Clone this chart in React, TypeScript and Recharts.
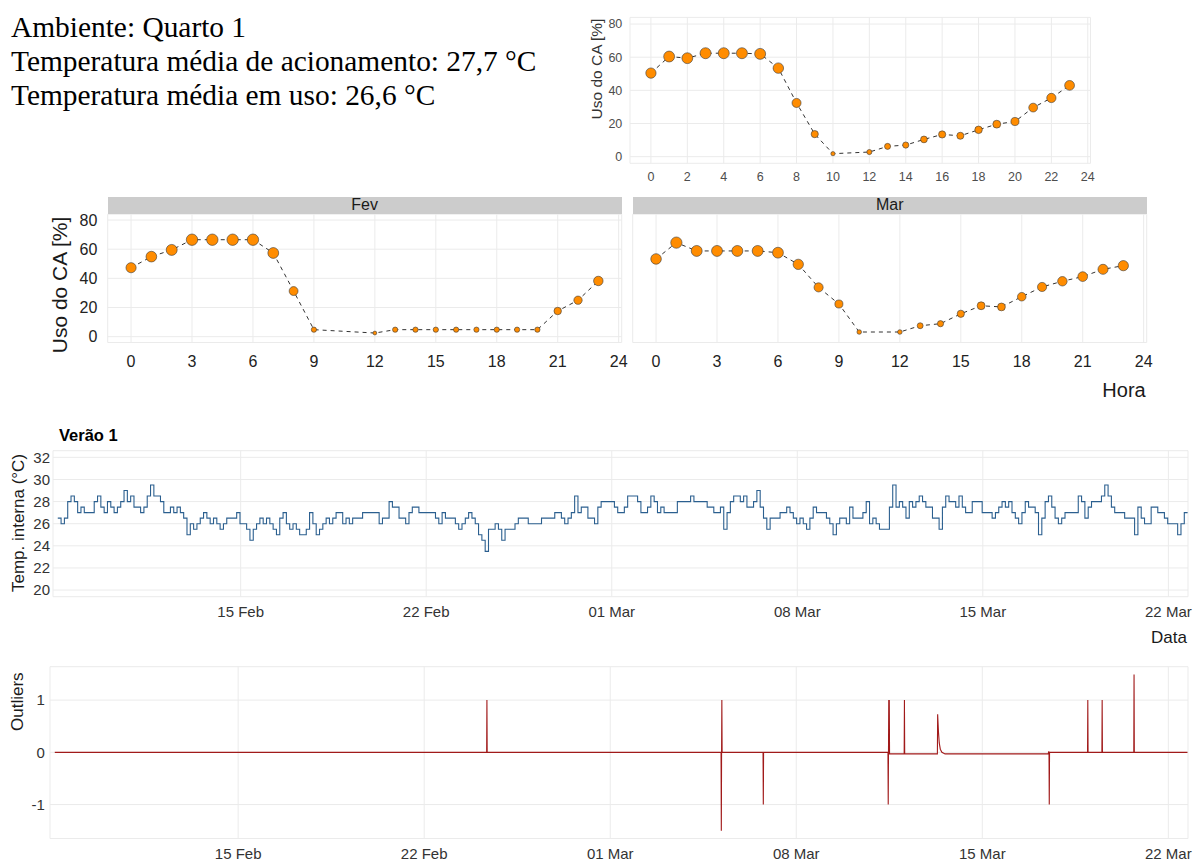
import React from "react";
import { CartesianGrid, Label, Line, LineChart, XAxis, YAxis } from "recharts";

// uso do ar condicionado por hora (%), null = hora sem registro
const hours = [0, 1, 2, 3, 4, 5, 6, 7, 8, 9, 10, 11, 12, 13, 14, 15, 16, 17, 18, 19, 20, 21, 22, 23];
const usoGeral = [50.4, 60.4, 59.4, 62.4, 62.4, 62.4, 62.0, 53.4, 32.4, 13.6, 1.8, null, 2.8, 6.2, 7.0, 10.4, 13.4, 12.6, 16.2, 19.6, 21.2, 29.6, 35.4, 43.0];
const usoFev = [47.3, 54.9, 59.5, 66.5, 66.5, 66.5, 66.5, 57.4, 31.3, 4.8, null, null, 2.5, 4.8, 4.8, 4.8, 4.8, 4.8, 4.8, 4.8, 4.8, 17.6, 25.0, 38.2];
const usoMar = [53.3, 64.5, 58.8, 58.8, 58.8, 58.8, 57.6, 49.6, 33.8, 22.4, 3.2, null, 3.2, 7.5, 8.9, 15.7, 21.2, 20.4, 27.4, 34.1, 38.0, 41.2, 46.2, 48.7];
const hourTicksTop = [0, 2, 4, 6, 8, 10, 12, 14, 16, 18, 20, 22, 24];
const hourTicksFacet = [0, 3, 6, 9, 12, 15, 18, 21, 24];
const usoTicks = [0, 20, 40, 60, 80];

// temperatura interna, leituras a cada 3 h; dias contados a partir de 01 Feb
const tempStartDay = 7.1;
const tempStepHours = 3;
const tempValues = [
  26.5, 26.0, 26.5, 28.0, 28.5, 28.0, 27.0, 27.5, 27.0, 27.0,
  27.0, 28.0, 28.5, 27.5, 27.0, 28.0, 27.5, 27.0, 27.5, 28.0,
  29.0, 28.0, 28.5, 27.5, 27.5, 27.0, 27.5, 28.5, 29.5, 28.5,
  28.5, 28.0, 27.0, 27.0, 27.5, 27.0, 27.5, 27.0, 26.5, 25.0,
  26.0, 25.5, 26.0, 26.5, 27.0, 26.5, 26.0, 26.5, 26.0, 25.5,
  26.0, 26.5, 26.5, 26.5, 27.0, 26.0, 26.0, 25.5, 24.5, 25.5,
  26.0, 26.5, 26.0, 26.5, 26.0, 25.5, 25.0, 26.5, 27.0, 26.0,
  25.5, 26.0, 25.5, 25.0, 25.0, 25.5, 27.0, 26.0, 25.0, 25.5,
  26.0, 26.5, 26.0, 26.5, 27.0, 27.0, 26.0, 26.5, 26.0, 26.5,
  26.5, 26.5, 27.0, 27.0, 27.0, 27.0, 27.0, 26.0, 26.5, 26.5,
  28.0, 27.5, 27.5, 26.5, 26.5, 26.0, 27.0, 27.5, 27.5, 27.0,
  27.0, 27.0, 27.0, 27.0, 26.5, 26.0, 27.0, 26.5, 26.5, 26.5,
  26.0, 25.5, 26.0, 26.5, 27.0, 26.5, 26.0, 25.0, 24.5, 23.5,
  25.5, 25.5, 26.0, 25.5, 24.5, 25.5, 25.5, 25.5, 26.0, 26.5,
  26.5, 26.5, 26.0, 26.0, 26.0, 26.0, 26.5, 26.5, 26.5, 26.5,
  27.0, 27.0, 26.5, 26.0, 26.5, 27.0, 28.5, 27.0, 27.5, 27.5,
  26.5, 26.5, 26.0, 27.5, 28.0, 28.0, 28.0, 28.0, 27.5, 27.0,
  27.0, 27.5, 28.5, 28.5, 28.5, 28.0, 27.0, 27.0, 27.5, 28.5,
  28.0, 27.0, 27.5, 27.0, 27.0, 27.0, 27.0, 28.0, 28.0, 28.0,
  28.0, 28.5, 28.0, 28.0, 28.0, 28.0, 27.5, 27.5, 27.0, 27.0,
  27.5, 25.5, 27.0, 28.0, 28.5, 28.5, 28.0, 28.5, 27.5, 27.5,
  28.0, 29.0, 27.5, 26.5, 25.5, 26.5, 26.5, 26.5, 27.0, 27.0,
  27.5, 27.0, 26.5, 26.0, 26.5, 26.0, 25.5, 26.5, 27.5, 27.0,
  27.0, 27.0, 26.5, 26.0, 25.0, 26.0, 26.5, 26.5, 26.0, 27.5,
  26.5, 26.5, 26.5, 27.0, 28.0, 26.0, 26.5, 26.0, 25.5, 25.5,
  25.5, 27.5, 29.5, 27.5, 28.0, 27.5, 26.5, 28.0, 27.5, 28.0,
  28.5, 28.0, 27.5, 27.5, 26.5, 26.5, 25.5, 27.5, 28.5, 28.0,
  28.0, 27.5, 28.5, 27.5, 27.0, 27.0, 28.0, 28.0, 28.0, 27.0,
  27.0, 27.0, 26.5, 27.0, 27.5, 28.0, 27.5, 28.0, 27.0, 26.5,
  26.0, 27.0, 28.0, 27.5, 27.5, 27.0, 25.0, 26.5, 28.0, 28.5,
  27.5, 26.5, 26.0, 26.5, 27.0, 27.0, 27.0, 27.0, 28.5, 28.0,
  26.5, 27.5, 28.0, 28.0, 28.0, 28.5, 29.5, 28.5, 27.5, 27.0,
  27.0, 27.0, 26.5, 26.5, 26.5, 25.0, 27.5, 26.5, 26.0, 26.0,
  27.5, 27.5, 27.0, 27.0, 26.5, 26.0, 26.0, 26.0, 25.0, 26.0,
  27.0, 27.0,
];
const tempTicks = [20, 22, 24, 26, 28, 30, 32];

const dateTicks = [14, 21, 28, 35, 42, 49];
const dateLabels = ["15 Feb", "22 Feb", "01 Mar", "08 Mar", "15 Mar", "22 Mar"];

// outliers detectados (dia a partir de 01 Feb, valor)
const outlierDays = [
  7.1, 23.35, 23.36, 23.37,
  32.17, 32.18, 32.19, 32.2, 32.21,
  33.75, 33.76, 33.77,
  38.45, 38.46, 38.47, 38.48, 38.49, 38.5, 38.51,
  39.06, 39.07, 39.08,
  40.31, 40.32, 40.35, 40.38, 40.42, 40.48, 40.6,
  44.48, 44.5, 44.51, 44.52, 44.53,
  45.96, 45.97, 45.98,
  46.5, 46.51, 46.52,
  47.7, 47.71, 47.72,
  49.72,
];
const outlierValues = [
  0, 0, 1, 0,
  0, -1.5, 0, 1, 0,
  0, -1, 0,
  0, -1, 0, 1, 0, 1, -0.03,
  -0.03, 1, -0.03,
  -0.03, 0.73, 0.4, 0.18, 0.06, 0, -0.03,
  -0.03, 0.02, 0, -1, 0,
  0, 1, 0,
  0, 1, 0,
  0, 1.49, 0,
  0,
];
const outlierTicks = [-1, 0, 1];

const geralData = hours.map((h, i) => ({ hora: h, uso: usoGeral[i] }));
const fevData = hours.map((h, i) => ({ hora: h, uso: usoFev[i] }));
const marData = hours.map((h, i) => ({ hora: h, uso: usoMar[i] }));
const tempData = tempValues.map((t, i) => ({ dia: tempStartDay + (i * tempStepHours) / 24, temp: t }));
const outlierData = outlierDays.map((d, i) => ({ dia: d, out: outlierValues[i] }));

const FONT = '"Liberation Sans", Arial, Helvetica, sans-serif';
const GRID = "#ebebeb";

const fmtDate = (d: number) => {
  const i = dateTicks.indexOf(d);
  return i >= 0 ? dateLabels[i] : "";
};

interface TitleSpec {
  text: string;
  x: number;
  y: number;
  size: number;
  rotate?: boolean;
  anchor?: "start" | "middle" | "end";
  weight?: string;
  color?: string;
}

// axis titles placed in chart coordinates
const drawTitles = (items: TitleSpec[]) => () => (
  <g>
    {items.map((t) => (
      <text
        key={t.text}
        x={t.x}
        y={t.y}
        fontSize={t.size}
        fontWeight={t.weight ?? "normal"}
        fill={t.color ?? "#1a1a1a"}
        textAnchor={t.anchor ?? "middle"}
        dominantBaseline="central"
        transform={t.rotate ? `rotate(-90 ${t.x} ${t.y})` : undefined}
      >
        {t.text}
      </text>
    ))}
  </g>
);

// point size grows with the share of use, like ggplot's scale_size
const dotRenderer = (rMin: number, rMax: number, vMin: number, vMax: number) => (props: any) => {
  const { cx, cy, index, payload } = props;
  const v = payload ? payload.uso : null;
  if (v == null || cx == null || cy == null) return <g key={`dot-${index}`} />;
  const t = Math.max(0, (v - vMin) / (vMax - vMin));
  return (
    <circle
      key={`dot-${index}`}
      cx={cx}
      cy={cy}
      r={rMin + (rMax - rMin) * Math.sqrt(t)}
      fill="#ff8c00"
      stroke="#3b3b3b"
      strokeWidth={0.6}
    />
  );
};

const stripStyle: React.CSSProperties = {
  position: "absolute",
  top: 7.3,
  width: 514,
  height: 16.7,
  background: "#cccccc",
  textAlign: "center",
  fontSize: 16,
  lineHeight: "16.7px",
  color: "#1a1a1a",
};

const App: React.FC = () => {
  const facetTick = { fontSize: 16, fill: "#222" };
  const dateTick = { fontSize: 15, fill: "#333" };
  return (
    <div style={{ position: "absolute", left: 0, top: 0, width: 1193, height: 862, fontFamily: FONT, background: "#fff" }}>
      <div
        style={{
          position: "absolute",
          left: 11,
          top: 10,
          fontFamily: '"Liberation Serif", "Times New Roman", serif',
          fontSize: 29.4,
          lineHeight: "34px",
          color: "#000",
          whiteSpace: "nowrap",
        }}
      >
        <div>Ambiente: Quarto 1</div>
        <div>Temperatura média de acionamento: 27,7 °C</div>
        <div>Temperatura média em uso: 26,6 °C</div>
      </div>

      {/* uso geral por hora */}
      <div style={{ position: "absolute", left: 580, top: 0 }}>
        <LineChart width={520} height={195} data={geralData} margin={{ top: 17.4, right: 9.5, bottom: 0, left: 0 }}>
          <CartesianGrid stroke={GRID} strokeWidth={1} />
          <XAxis
            dataKey="hora"
            type="number"
            domain={[-1.15, 24.15]}
            ticks={hourTicksTop}
            interval={0}
            allowDataOverflow
            axisLine={false}
            tickLine={false}
            tickSize={0}
            tickMargin={9}
            height={31.7}
            tick={{ fontSize: 12.5, fill: "#4d4d4d" }}
          />
          <YAxis
            type="number"
            domain={[-4, 84]}
            ticks={usoTicks}
            interval={0}
            allowDataOverflow
            width={50}
            axisLine={false}
            tickLine={false}
            tickSize={0}
            tickMargin={7.7}
            tick={{ fontSize: 12.5, fill: "#4d4d4d" }}
          >
            <Label content={drawTitles([{ text: "Uso do CA [%]", x: 16.7, y: 69, size: 15.5, rotate: true, color: "#333" }])} />
          </YAxis>
          <Line
            dataKey="uso"
            stroke="#333"
            strokeWidth={1}
            strokeDasharray="4 4"
            connectNulls
            dot={dotRenderer(2.1, 5.5, 1.8, 62.4)}
            activeDot={false}
            isAnimationActive={false}
          />
        </LineChart>
      </div>

      {/* painel Fev */}
      <div style={{ position: "absolute", left: 0, top: 190 }}>
        <LineChart width={640} height={220} data={fevData} margin={{ top: 24.2, right: 18.3, bottom: 0, left: 0 }}>
          <CartesianGrid stroke={GRID} strokeWidth={1} />
          <XAxis
            dataKey="hora"
            type="number"
            domain={[-1.15, 24.15]}
            ticks={hourTicksFacet}
            interval={0}
            allowDataOverflow
            axisLine={false}
            tickLine={false}
            tickSize={0}
            tickMargin={13.5}
            height={67.5}
            tick={facetTick}
          />
          <YAxis
            type="number"
            domain={[-4, 84]}
            ticks={usoTicks}
            interval={0}
            allowDataOverflow
            width={107.7}
            axisLine={false}
            tickLine={false}
            tickSize={0}
            tickMargin={10.4}
            tick={facetTick}
          >
            <Label content={drawTitles([{ text: "Uso do CA [%]", x: 59.3, y: 95, size: 21, rotate: true }])} />
          </YAxis>
          <Line
            dataKey="uso"
            stroke="#333"
            strokeWidth={1}
            strokeDasharray="4 4"
            connectNulls
            dot={dotRenderer(1.9, 5.7, 2.5, 66.5)}
            activeDot={false}
            isAnimationActive={false}
          />
        </LineChart>
        <div style={{ ...stripStyle, left: 107.7 }}>Fev</div>
      </div>

      {/* painel Mar */}
      <div style={{ position: "absolute", left: 626, top: 190 }}>
        <LineChart width={567} height={220} data={marData} margin={{ top: 24.2, right: 46.3, bottom: 0, left: 0 }}>
          <CartesianGrid stroke={GRID} strokeWidth={1} />
          <XAxis
            dataKey="hora"
            type="number"
            domain={[-1.15, 24.15]}
            ticks={hourTicksFacet}
            interval={0}
            allowDataOverflow
            axisLine={false}
            tickLine={false}
            tickSize={0}
            tickMargin={13.5}
            height={67.5}
            tick={facetTick}
          >
            <Label content={drawTitles([{ text: "Hora", x: 519.7, y: 200, size: 20, anchor: "end" }])} />
          </XAxis>
          <YAxis
            type="number"
            domain={[-4, 84]}
            ticks={usoTicks}
            interval={0}
            allowDataOverflow
            width={6.7}
            axisLine={false}
            tickLine={false}
            tick={false}
          />
          <Line
            dataKey="uso"
            stroke="#333"
            strokeWidth={1}
            strokeDasharray="4 4"
            connectNulls
            dot={dotRenderer(1.9, 5.7, 2.5, 66.5)}
            activeDot={false}
            isAnimationActive={false}
          />
        </LineChart>
        <div style={{ ...stripStyle, left: 6.7 }}>Mar</div>
      </div>

      {/* temperatura interna */}
      <div style={{ position: "absolute", left: 0, top: 420 }}>
        <LineChart width={1193} height={240} data={tempData} margin={{ top: 30.7, right: 5, bottom: 0, left: 0 }}>
          <CartesianGrid stroke={GRID} strokeWidth={1} />
          <XAxis
            dataKey="dia"
            type="number"
            domain={[6.92, 49.74]}
            ticks={dateTicks}
            tickFormatter={fmtDate}
            interval={0}
            allowDataOverflow
            axisLine={false}
            tickLine={false}
            tickSize={0}
            tickMargin={9.6}
            height={63.3}
            tick={dateTick}
          >
            <Label content={drawTitles([{ text: "Data", x: 1187, y: 217, size: 17, anchor: "end" }])} />
          </XAxis>
          <YAxis
            type="number"
            domain={[19.4, 32.6]}
            ticks={tempTicks}
            interval={0}
            allowDataOverflow
            width={53}
            axisLine={false}
            tickLine={false}
            tickSize={0}
            tickMargin={3}
            tick={dateTick}
          >
            <Label
              content={drawTitles([
                { text: "Temp. interna (°C)", x: 18, y: 103, size: 17, rotate: true },
                { text: "Verão 1", x: 59, y: 15, size: 16.5, anchor: "start", weight: "bold", color: "#000" },
              ])}
            />
          </YAxis>
          <Line
            type="stepAfter"
            dataKey="temp"
            stroke="#2b5f8f"
            strokeWidth={1.1}
            dot={false}
            activeDot={false}
            isAnimationActive={false}
          />
        </LineChart>
      </div>

      {/* outliers */}
      <div style={{ position: "absolute", left: 0, top: 660 }}>
        <LineChart width={1193} height={202} data={outlierData} margin={{ top: 6.7, right: 5, bottom: 0, left: 0 }}>
          <CartesianGrid stroke={GRID} strokeWidth={1} />
          <XAxis
            dataKey="dia"
            type="number"
            domain={[6.92, 49.74]}
            ticks={dateTicks}
            tickFormatter={fmtDate}
            interval={0}
            allowDataOverflow
            axisLine={false}
            tickLine={false}
            tickSize={0}
            tickMargin={9.4}
            height={23.5}
            tick={dateTick}
          />
          <YAxis
            type="number"
            domain={[-1.65, 1.64]}
            ticks={outlierTicks}
            interval={0}
            allowDataOverflow
            width={50}
            axisLine={false}
            tickLine={false}
            tickSize={0}
            tickMargin={5.2}
            tick={dateTick}
          >
            <Label content={drawTitles([{ text: "Outliers", x: 17.2, y: 41.7, size: 17, rotate: true }])} />
          </YAxis>
          <Line
            type="linear"
            dataKey="out"
            stroke="#a11a1a"
            strokeWidth={1.1}
            dot={false}
            activeDot={false}
            isAnimationActive={false}
          />
        </LineChart>
      </div>
    </div>
  );
};

export default App;
